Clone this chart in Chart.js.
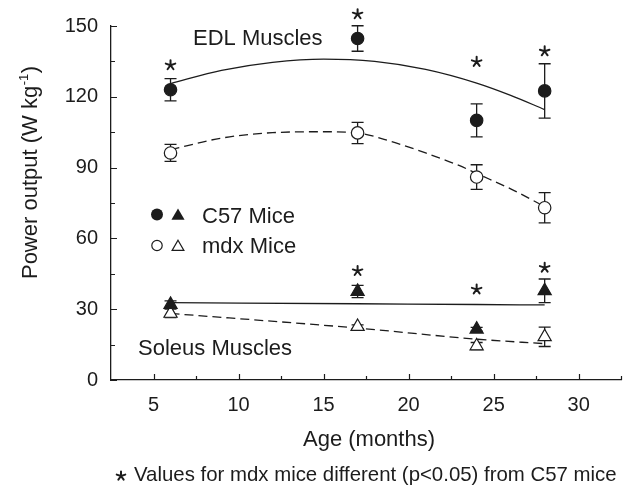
<!DOCTYPE html>
<html>
<head>
<meta charset="utf-8">
<script src="https://cdn.jsdelivr.net/npm/chart.js@4.4.1/dist/chart.umd.min.js"></script>
<style>
  html, body { margin: 0; padding: 0; background: #fff; }
  #chart { display: block; }
</style>
</head>
<body>
<canvas id="chart" width="630" height="487"></canvas>
<script>
// ---- data ----
const ages = [6, 17, 24, 28];

// EDL muscles (circles)
const edlC57 = [123.0, 144.7, 110.0, 122.5];
const edlC57Err = [4.7, 5.4, 7.0, 11.5];
const edlMdx = [96.2, 104.7, 86.0, 73.0];
const edlMdxErr = [3.6, 4.5, 5.2, 6.4];

// Soleus muscles (triangles)
const solC57 = [32.0, 37.5, 21.5, 37.8];
const solC57Err = [1.5, 2.6, 0.8, 5.0];
const solMdx = [28.2, 22.6, 14.4, 18.3];
const solMdxErr = [1.8, 0.8, 1.5, 4.1];

// fitted curves
const edlC57FitX = [6, 9, 12, 15, 18, 21, 24, 26, 28];
const edlC57Fit = [125.6, 131.2, 134.6, 136.0, 135.0, 131.6, 125.8, 120.6, 114.6];
const edlMdxFitX = [6, 9, 12, 15, 17, 19, 21, 23, 24, 26, 28];
const edlMdxFit = [97.6, 102.5, 104.8, 105.2, 104.7, 101.0, 96.2, 90.8, 87.5, 81.0, 73.5];
const solC57FitX = [6, 17, 24, 28];
const solC57Fit = [32.8, 32.3, 32.0, 31.8];
const solMdxFitX = [6, 17, 24, 28];
const solMdxFit = [28.2, 22.0, 17.3, 15.4];

// significance asterisks
const starAges = [6, 17, 24, 28, 17, 24, 28];
const starVals = [133.4, 155.0, 134.8, 139.3, 46.2, 38.4, 47.6];

// axes
const xTicks = [5, 10, 15, 20, 25, 30];
const xMinor = [7.5, 12.5, 17.5, 22.5, 27.5, 32.5];
const yTicks = [0, 30, 60, 90, 120, 150];
const yMinor = [15, 45, 75, 105, 135];

const INK = '#1c1c1c';
const FONT = '"Liberation Sans", Arial, sans-serif';

const pts = (xs, ys) => xs.map((x, i) => ({ x: x, y: ys[i] }));

function star(ctx, x, y, r) {
  ctx.save();
  ctx.strokeStyle = INK;
  ctx.lineWidth = 2;
  ctx.lineCap = 'round';
  ctx.beginPath();
  for (let k = 0; k < 5; k++) {
    const a = -Math.PI / 2 + k * 2 * Math.PI / 5;
    ctx.moveTo(x, y);
    ctx.lineTo(x + Math.cos(a) * r, y + Math.sin(a) * r);
  }
  ctx.stroke();
  ctx.restore();
}

function errorBars(ctx, xs, ys, es, chart) {
  const sx = chart.scales.x, sy = chart.scales.y;
  ctx.beginPath();
  xs.forEach((a, i) => {
    if (!es[i]) return;
    const px = sx.getPixelForValue(a);
    const top = sy.getPixelForValue(ys[i] + es[i]);
    const bot = sy.getPixelForValue(ys[i] - es[i]);
    ctx.moveTo(px, top); ctx.lineTo(px, bot);
    ctx.moveTo(px - 6, top); ctx.lineTo(px + 6, top);
    ctx.moveTo(px - 6, bot); ctx.lineTo(px + 6, bot);
  });
  ctx.stroke();
}

const decor = {
  id: 'decor',
  beforeDatasetsDraw(chart) {
    const ctx = chart.ctx, sx = chart.scales.x, sy = chart.scales.y;
    const a = chart.chartArea;
    ctx.save();
    ctx.strokeStyle = INK;
    ctx.lineWidth = 1.2;
    // inward tick marks
    ctx.beginPath();
    yTicks.forEach(v => { const p = Math.round(sy.getPixelForValue(v)) + 0.5; ctx.moveTo(a.left, p); ctx.lineTo(a.left + 6, p); });
    yMinor.forEach(v => { const p = Math.round(sy.getPixelForValue(v)) + 0.5; ctx.moveTo(a.left, p); ctx.lineTo(a.left + 4, p); });
    xTicks.forEach(v => { const p = Math.round(sx.getPixelForValue(v)) + 0.5; ctx.moveTo(p, a.bottom); ctx.lineTo(p, a.bottom - 6); });
    xMinor.forEach(v => { const p = Math.round(sx.getPixelForValue(v)) + 0.5; ctx.moveTo(p, a.bottom); ctx.lineTo(p, a.bottom - 4); });
    ctx.stroke();
    // error bars
    ctx.lineWidth = 1.3;
    errorBars(ctx, ages, edlC57, edlC57Err, chart);
    errorBars(ctx, ages, edlMdx, edlMdxErr, chart);
    errorBars(ctx, ages, solC57, solC57Err, chart);
    errorBars(ctx, ages, solMdx, solMdxErr, chart);
    ctx.restore();
  },
  afterDatasetsDraw(chart) {
    const ctx = chart.ctx, sx = chart.scales.x, sy = chart.scales.y;
    starAges.forEach((a, i) => star(ctx, sx.getPixelForValue(a), sy.getPixelForValue(starVals[i]), 5));
  },
  afterDraw(chart) {
    const ctx = chart.ctx;
    ctx.save();
    ctx.fillStyle = INK;
    ctx.textBaseline = 'alphabetic';
    ctx.textAlign = 'left';
    ctx.font = '22px ' + FONT;
    ctx.fillText('EDL Muscles', 193, 44.5);
    ctx.fillText('Soleus Muscles', 138, 355);
    ctx.fillText('C57 Mice', 202, 222.5);
    ctx.fillText('mdx Mice', 202, 252.5);

    // legend symbols
    ctx.strokeStyle = INK;
    ctx.lineWidth = 1.2;
    ctx.beginPath(); ctx.arc(157, 214.5, 6, 0, Math.PI * 2); ctx.fill();
    ctx.beginPath(); ctx.arc(157, 245.5, 5.2, 0, Math.PI * 2); ctx.stroke();
    const tri = (x, y, r, fill) => {
      ctx.beginPath();
      ctx.moveTo(x, y - r);
      ctx.lineTo(x + r * 0.866, y + r / 2);
      ctx.lineTo(x - r * 0.866, y + r / 2);
      ctx.closePath();
      fill ? ctx.fill() : ctx.stroke();
    };
    tri(178, 216, 7.6, true);
    tri(178, 247, 6.8, false);

    // x axis title
    ctx.textAlign = 'center';
    ctx.fillText('Age (months)', 369, 446);

    // footnote
    ctx.textAlign = 'left';
    ctx.font = '20.4px ' + FONT;
    ctx.fillText('Values for mdx mice different (p<0.05) from C57 mice', 134, 481);
    star(ctx, 121, 476, 4.5);

    // y axis title with superscript
    ctx.translate(37, 173);
    ctx.rotate(-Math.PI / 2);
    const main = 'Power output (W kg', sup = '-1', end = ')';
    ctx.font = '22px ' + FONT;
    const w1 = ctx.measureText(main).width, w3 = ctx.measureText(end).width;
    ctx.font = '13px ' + FONT;
    const w2 = ctx.measureText(sup).width;
    let x0 = -(w1 + w2 + w3) / 2;
    ctx.font = '22px ' + FONT;
    ctx.fillText(main, x0, 0);
    ctx.font = '13px ' + FONT;
    ctx.fillText(sup, x0 + w1 + 0.5, -9);
    ctx.font = '22px ' + FONT;
    ctx.fillText(end, x0 + w1 + w2 + 1, 0);
    ctx.restore();
  }
};

const lineDs = (xs, ys, dashed) => ({
  type: 'line',
  data: pts(xs, ys),
  borderColor: INK,
  borderWidth: 1.3,
  borderDash: dashed ? [9, 5] : [],
  pointRadius: 0,
  fill: false,
  cubicInterpolationMode: 'monotone',
  order: 5,
  clip: false
});

const markDs = (ys, style, filled, r) => ({
  type: 'scatter',
  data: pts(ages, ys),
  pointStyle: style,
  pointRadius: r,
  pointBackgroundColor: filled ? INK : '#ffffff',
  pointBorderColor: INK,
  pointBorderWidth: 1.2,
  order: 1,
  clip: false
});

new Chart(document.getElementById('chart'), {
  type: 'scatter',
  data: {
    datasets: [
      lineDs(edlC57FitX, edlC57Fit, false),
      lineDs(edlMdxFitX, edlMdxFit, true),
      lineDs(solC57FitX, solC57Fit, false),
      lineDs(solMdxFitX, solMdxFit, true),
      markDs(edlC57, 'circle', true, 6.2),
      markDs(edlMdx, 'circle', false, 6.2),
      markDs(solC57, 'triangle', true, 7.6),
      markDs(solMdx, 'triangle', false, 7.6)
    ]
  },
  options: {
    responsive: false,
    animation: false,
    layout: { padding: { top: 26, right: 3, left: 0, bottom: 0 } },
    plugins: { legend: { display: false }, tooltip: { enabled: false } },
    scales: {
      x: {
        type: 'linear',
        min: 2.5,
        max: 32.5,
        grid: { display: false, drawTicks: false },
        border: { display: true, color: INK, width: 1.3 },
        ticks: { color: INK, font: { family: FONT, size: 20 }, padding: 13, maxRotation: 0 },
        afterBuildTicks: s => { s.ticks = xTicks.map(v => ({ value: v })); },
        afterFit: s => { s.height = 107; }
      },
      y: {
        type: 'linear',
        min: 0,
        max: 150,
        grid: { display: false, drawTicks: false },
        border: { display: true, color: INK, width: 1.3 },
        ticks: { color: INK, font: { family: FONT, size: 20 }, padding: 13 },
        afterBuildTicks: s => { s.ticks = yTicks.map(v => ({ value: v })); },
        afterFit: s => { s.width = 111; }
      }
    }
  },
  plugins: [decor]
});
</script>
</body>
</html>
